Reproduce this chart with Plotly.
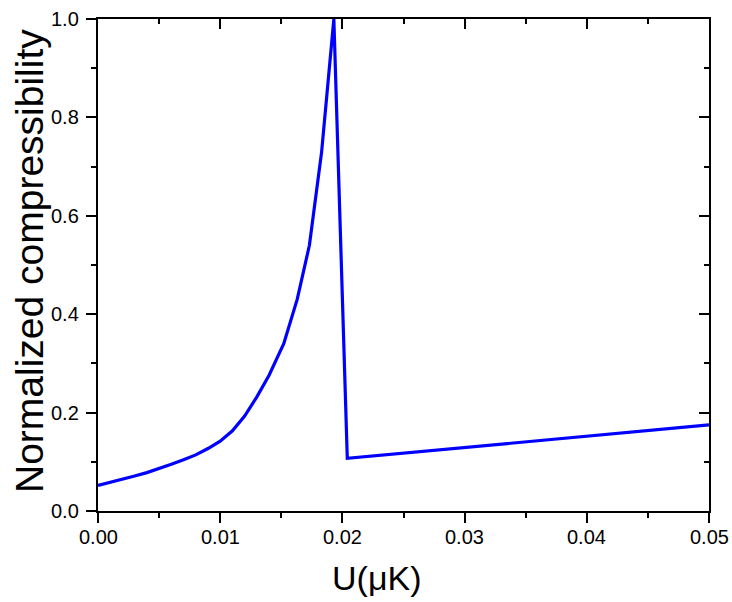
import plotly.graph_objects as go

# Data
u_values = [0.000, 0.001, 0.002, 0.003, 0.004, 0.005, 0.006, 0.007, 0.008, 0.009,
            0.010, 0.011, 0.012, 0.013, 0.014, 0.0152, 0.0163, 0.0173, 0.0183,
            0.0193, 0.0204, 0.050]
compressibility = [0.052, 0.058, 0.064, 0.071, 0.078, 0.086, 0.095, 0.104, 0.114, 0.127,
                   0.142, 0.163, 0.193, 0.232, 0.276, 0.340, 0.430, 0.540, 0.730,
                   1.000, 0.107, 0.175]

x_ticks = [0.00, 0.01, 0.02, 0.03, 0.04, 0.05]
x_tick_labels = ["0.00", "0.01", "0.02", "0.03", "0.04", "0.05"]
y_ticks = [0.0, 0.2, 0.4, 0.6, 0.8, 1.0]
y_tick_labels = ["0.0", "0.2", "0.4", "0.6", "0.8", "1.0"]
x_title = "U(\u03bcK)"
y_title = "Normalized compressibility"

FONT = "Liberation Sans, Arial, sans-serif"

fig = go.Figure()
fig.add_trace(go.Scatter(x=u_values, y=compressibility, mode="lines",
                         line=dict(color="#0000FF", width=3.2), showlegend=False))
# invisible copy to anchor the top/right inside-tick axes
fig.add_trace(go.Scatter(x=u_values, y=compressibility, mode="lines", xaxis="x2", yaxis="y2",
                         line=dict(color="rgba(0,0,0,0)", width=0), showlegend=False,
                         hoverinfo="skip"))

common = dict(showgrid=False, zeroline=False, showline=True, linecolor="black", linewidth=2,
              tickcolor="black", tickwidth=2, ticklen=10, automargin=False)

# tick labels as text placed at the tick values
annotations = []
for v, t in zip(x_ticks, x_tick_labels):
    annotations.append(dict(text=t, x=v, xref="x", y=-0.053, yref="paper",
                            xanchor="center", yanchor="middle", showarrow=False,
                            font=dict(size=20, family=FONT, color="black")))
for v, t in zip(y_ticks, y_tick_labels):
    annotations.append(dict(text=t, x=-0.028, xref="paper", y=v, yref="y",
                            xanchor="right", yanchor="middle", showarrow=False,
                            font=dict(size=20, family=FONT, color="black")))
annotations.append(dict(text=x_title, xref="paper", yref="paper", x=0.455, y=-0.136,
                        xanchor="center", yanchor="middle", showarrow=False,
                        font=dict(size=34, family=FONT, color="black")))
annotations.append(dict(text=y_title, xref="paper", yref="paper", x=-0.113, y=0.508,
                        xanchor="center", yanchor="middle", showarrow=False, textangle=-90,
                        font=dict(size=39, family=FONT, color="black")))

fig.update_layout(
    width=732, height=602,
    margin=dict(l=98, r=23, t=19, b=91),
    paper_bgcolor="white", plot_bgcolor="white",
    font=dict(family=FONT, color="black"),
    xaxis=dict(range=[0, 0.05], tickvals=x_ticks, showticklabels=False, ticks="outside",
               minor=dict(dtick=0.005, tick0=0, ticks="outside", ticklen=5, tickwidth=2, tickcolor="black"),
               **common),
    yaxis=dict(range=[0, 1.0], tickvals=y_ticks, showticklabels=False, ticks="outside",
               minor=dict(dtick=0.1, tick0=0, ticks="outside", ticklen=5, tickwidth=2, tickcolor="black"),
               **common),
    xaxis2=dict(range=[0, 0.05], overlaying="x", side="top", anchor="y2", tickvals=x_ticks,
                showticklabels=False, ticks="inside",
                minor=dict(dtick=0.005, tick0=0, ticks="inside", ticklen=5, tickwidth=2, tickcolor="black"),
                **common),
    yaxis2=dict(range=[0, 1.0], overlaying="y", side="right", anchor="x2", tickvals=y_ticks,
                showticklabels=False, ticks="inside",
                minor=dict(dtick=0.1, tick0=0, ticks="inside", ticklen=5, tickwidth=2, tickcolor="black"),
                **common),
    annotations=annotations,
)

fig.write_html("out.html")
